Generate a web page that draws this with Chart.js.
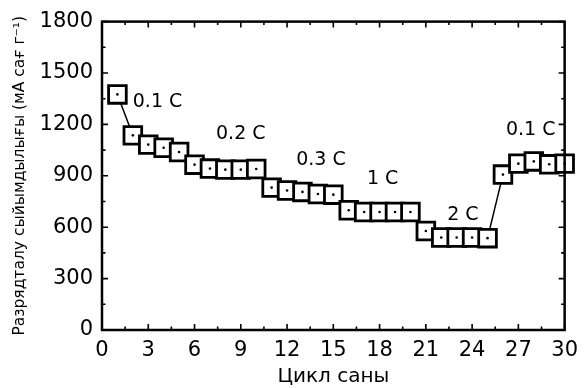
<!DOCTYPE html>
<html lang="kk">
<head>
    <meta charset="UTF-8">
    <title>Цикл саны</title>
    <script src="https://cdn.jsdelivr.net/npm/chart.js"></script>
    <style>
        html, body {
            margin: 0;
            padding: 0;
            background: #ffffff;
        }
        .chart-container {
            position: relative;
            width: 586px;
            height: 388px;
        }
    </style>
</head>
<body>
    <div class="chart-container">
        <canvas id="cycleChart"></canvas>
    </div>
    <script>
        // Data
        const cycles = [1, 2, 3, 4, 5, 6, 7, 8, 9, 10, 11, 12, 13, 14, 15,
                        16, 17, 18, 19, 20, 21, 22, 23, 24, 25, 26, 27, 28, 29, 30];
        const capacity = [1375, 1136, 1082, 1064, 1039, 965, 942, 936, 936, 940,
                          831, 814, 806, 794, 790, 699, 689, 689, 689, 689,
                          578, 540, 540, 540, 536, 907, 971, 984, 967, 971];

        // Current-rate labels and where they sit (in data units)
        const rateLabels = ['0.1 C', '0.2 C', '0.3 C', '1 C', '2 C', '0.1 C'];
        const rateLabelX = [3.6, 9.0, 14.2, 18.2, 23.4, 27.8];
        const rateLabelY = [1328, 1142, 993, 880, 670, 1165];

        const xTicks = [0, 3, 6, 9, 12, 15, 18, 21, 24, 27, 30];
        const yTicks = [0, 300, 600, 900, 1200, 1500, 1800];

        const FONT = "'DejaVu Sans', sans-serif";

        // Frame with inward major/minor ticks on all four sides
        const framePlugin = {
            id: 'frame',
            afterDatasetsDraw(chart) {
                const { ctx, chartArea: a, scales } = chart;
                const xs = scales.x, ys = scales.y;
                ctx.save();
                ctx.strokeStyle = '#000';
                ctx.lineWidth = 1.6;
                ctx.beginPath();
                for (let v = 0; v <= 30.001; v += 1.5) {
                    const px = xs.getPixelForValue(v);
                    const len = (Math.round(v / 1.5) % 2 === 0) ? 6 : 3.5;
                    ctx.moveTo(px, a.bottom); ctx.lineTo(px, a.bottom - len);
                    ctx.moveTo(px, a.top); ctx.lineTo(px, a.top + len);
                }
                for (let v = 0; v <= 1800.1; v += 150) {
                    const py = ys.getPixelForValue(v);
                    const len = (Math.round(v / 150) % 2 === 0) ? 6 : 3.5;
                    ctx.moveTo(a.left, py); ctx.lineTo(a.left + len, py);
                    ctx.moveTo(a.right, py); ctx.lineTo(a.right - len, py);
                }
                ctx.stroke();
                ctx.lineWidth = 2.5;
                ctx.strokeRect(a.left, a.top, a.right - a.left, a.bottom - a.top);
                ctx.restore();
            }
        };

        // Rate annotations
        const ratePlugin = {
            id: 'rates',
            afterDatasetsDraw(chart) {
                const { ctx, scales } = chart;
                ctx.save();
                ctx.fillStyle = '#000';
                ctx.font = '19px ' + FONT;
                ctx.textAlign = 'center';
                ctx.textBaseline = 'middle';
                rateLabels.forEach((t, i) => {
                    ctx.fillText(t, scales.x.getPixelForValue(rateLabelX[i]),
                                    scales.y.getPixelForValue(rateLabelY[i]));
                });
                ctx.restore();
            }
        };

        const points = cycles.map((c, i) => ({ x: c, y: capacity[i] }));

        new Chart(document.getElementById('cycleChart'), {
            type: 'line',
            data: {
                datasets: [
                    {
                        // centre dots
                        data: points,
                        showLine: false,
                        pointStyle: 'circle',
                        pointRadius: 1.3,
                        pointBackgroundColor: '#000',
                        pointBorderWidth: 0,
                        order: 0
                    },
                    {
                        data: points,
                        borderColor: '#000',
                        borderWidth: 1.5,
                        pointStyle: 'rect',
                        pointRadius: 12.5,
                        pointBorderWidth: 2.8,
                        pointBorderColor: '#000',
                        pointBackgroundColor: '#fff',
                        tension: 0,
                        order: 1
                    }
                ]
            },
            options: {
                responsive: true,
                maintainAspectRatio: false,
                animation: false,
                clip: false,
                layout: { padding: { top: 21, right: 17, left: 0, bottom: 0 } },
                plugins: {
                    legend: { display: false },
                    tooltip: { enabled: false }
                },
                scales: {
                    x: {
                        type: 'linear',
                        min: 0,
                        max: 30,
                        afterBuildTicks(scale) {
                            scale.ticks = xTicks.map(v => ({ value: v }));
                        },
                        afterFit(scale) { scale.height = 58; },
                        grid: { display: false, drawTicks: false },
                        border: { display: false },
                        ticks: {
                            color: '#000',
                            font: { family: FONT, size: 21 },
                            padding: 8,
                            maxRotation: 0,
                            callback: v => String(v)
                        },
                        title: {
                            display: true,
                            text: 'Цикл саны',
                            color: '#000',
                            font: { family: FONT, size: 20, lineHeight: 1 },
                            padding: { top: 0, bottom: 1 }
                        }
                    },
                    y: {
                        min: 0,
                        max: 1800,
                        afterBuildTicks(scale) {
                            scale.ticks = yTicks.map(v => ({ value: v }));
                        },
                        afterFit(scale) { scale.width = 102; },
                        grid: { display: false, drawTicks: false },
                        border: { display: false },
                        ticks: {
                            color: '#000',
                            font: { family: FONT, size: 21 },
                            padding: 9,
                            callback: v => String(v)
                        },
                        title: {
                            display: true,
                            text: 'Разрядталу сыйымдылығы (мА сағ г⁻¹)',
                            color: '#000',
                            font: { family: FONT, size: 15.5, lineHeight: 1 },
                            padding: { top: 12, bottom: 0 }
                        }
                    }
                }
            },
            plugins: [framePlugin, ratePlugin]
        });
    </script>
</body>
</html>
